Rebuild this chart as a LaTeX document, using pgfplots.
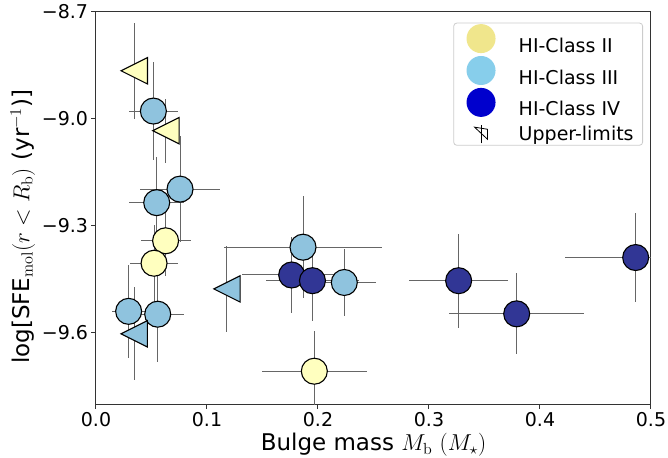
\RequirePackage{fix-cm}
\documentclass[border=0pt]{standalone}
\usepackage[no-math]{fontspec}
\setmainfont{DejaVu Sans}
\usepackage{pgfplots}
\pgfplotsset{compat=1.18}
\usepackage{pgfplotstable}

\definecolor{cII}{HTML}{FFFFBF}
\definecolor{cIII}{HTML}{8FC3DE}
\definecolor{cIV}{HTML}{313695}
\definecolor{lII}{HTML}{F0E68C}
\definecolor{lIII}{HTML}{87CEEB}
\definecolor{lIV}{HTML}{0000CD}
\definecolor{ebc}{HTML}{666666}

\pgfdeclareplotmark{ltri}{%
  \pgfpathmoveto{\pgfqpoint{-\pgfplotmarksize}{0pt}}%
  \pgfpathlineto{\pgfqpoint{\pgfplotmarksize}{\pgfplotmarksize}}%
  \pgfpathlineto{\pgfqpoint{\pgfplotmarksize}{-\pgfplotmarksize}}%
  \pgfpathclose
  \pgfusepathqfillstroke}

\pgfplotstableread{
x y exp exm eyp eym
0.0627 -9.342 0.0225 0.0225 0.100 0.100
0.0523 -9.405 0.022 0.022 0.108 0.108
0.1967 -9.708 0.047 0.047 0.112 0.112
}\tabII

\pgfplotstableread{
x y exp exm eyp eym
0.0517 -8.978 0.022 0.022 0.138 0.138
0.0757 -9.197 0.036 0.036 0.148 0.148
0.0547 -9.235 0.025 0.025 0.127 0.127
0.0294 -9.540 0.015 0.015 0.131 0.131
0.0556 -9.548 0.024 0.024 0.133 0.133
0.1865 -9.360 0.0715 0.0715 0.143 0.143
0.2237 -9.459 0.029 0.029 0.095 0.095
}\tabIII

\pgfplotstableread{
x y exp exm eyp eym
0.1763 -9.438 0.045 0.045 0.107 0.107
0.1950 -9.454 0.042 0.042 0.114 0.114
0.3267 -9.454 0.0445 0.0445 0.132 0.132
0.3790 -9.547 0.061 0.061 0.114 0.114
0.4862 -9.389 0.064 0.064 0.125 0.125
}\tabIV

\pgfplotstableread{
x y exp exm eyp eym
0.0345 -8.865 0 0 0.134 0.134
0.0630 -9.033 0 0 0.090 0.090
}\tabULII

\pgfplotstableread{
x y exp exm eyp eym
0.0344 -9.603 0 0 0.130 0.130
0.1180 -9.477 0 0 0.120 0.120
}\tabULIII

\pgfplotsset{
  ebars/.style={only marks, mark=none, forget plot,
    error bars/.cd, x dir=both, y dir=both, x explicit, y explicit,
    error mark=none, error bar style={ebc, line width=1bp}},
  circ/.style={only marks, forget plot, mark=*, mark size=13bp,
    mark options={fill=#1, draw=black, line width=1.1bp}},
  utri/.style={only marks, forget plot, mark=ltri, mark size=13.2bp,
    mark options={fill=#1, draw=black, line width=1.1bp}},
}

\begin{document}
\begin{tikzpicture}
\begin{axis}[
  scale only axis, width=555bp, height=392bp,
  xmin=0, xmax=0.5, ymin=-9.8, ymax=-8.7,
  xtick={0,0.1,0.2,0.3,0.4,0.5},
  ytick={-9.6,-9.3,-9.0,-8.7},
  yticklabels={−9.6,−9.3,−9.0,−8.7},
  tick align=outside, tick pos=left, major tick length=4.5bp,
  axis line style={black!80, line width=1bp},
  every tick/.style={black!80, line width=1bp},
  ticklabel style={font=\fontsize{19bp}{22bp}\selectfont},
  xticklabel style={/pgf/number format/.cd, fixed, fixed zerofill, precision=1, assume math mode=true},
  xlabel={Bulge mass $M_\mathrm{b}$ $(M_\star)$},
  ylabel={log[SFE$_\mathrm{mol}(r<R_\mathrm{b})$ (yr$^{-1}$)]},
  label style={font=\fontsize{23bp}{27bp}\selectfont},
  ylabel style={at={(ticklabel cs:0.452)}},
  legend cell align=left,
  legend style={at={(rel axis cs:0.9856,0.9727)}, anchor=north east,
    draw=black!20, line width=0.8bp, rounded corners=3bp,
    inner xsep=4.5bp, inner ysep=1bp, row sep=0.3bp,
    font=\fontsize{19bp}{22bp}\selectfont,
    nodes={inner xsep=4.5bp, inner ysep=2bp}},
]
% error bars first
\addplot[ebars] table[x=x, y=y, x error plus=exp, x error minus=exm, y error plus=eyp, y error minus=eym] {\tabII};
\addplot[ebars] table[x=x, y=y, x error plus=exp, x error minus=exm, y error plus=eyp, y error minus=eym] {\tabIII};
\addplot[ebars] table[x=x, y=y, x error plus=exp, x error minus=exm, y error plus=eyp, y error minus=eym] {\tabIV};
\addplot[ebars] table[x=x, y=y, x error plus=exp, x error minus=exm, y error plus=eyp, y error minus=eym] {\tabULII};
\addplot[ebars] table[x=x, y=y, x error plus=exp, x error minus=exm, y error plus=eyp, y error minus=eym] {\tabULIII};
% markers
\addplot[circ=cII] table[x=x, y=y] {\tabII};
\addplot[circ=cIII] table[x=x, y=y] {\tabIII};
\addplot[circ=cIV] table[x=x, y=y] {\tabIV};
\addplot[utri=cII] table[x=x, y=y] {\tabULII};
\addplot[utri=cIII] table[x=x, y=y] {\tabULIII};
% legend
\addlegendimage{legend image code/.code={\path[draw=none,fill=none] (0,-14.5bp) rectangle (56bp,14.5bp); \fill[lII, draw=none] (22.8bp,0) circle[radius=14.5bp];}}
\addlegendentry{HI-Class II}
\addlegendimage{legend image code/.code={\path[draw=none,fill=none] (0,-14.5bp) rectangle (56bp,14.5bp); \fill[lIII, draw=none] (22.8bp,0) circle[radius=14.5bp];}}
\addlegendentry{HI-Class III}
\addlegendimage{legend image code/.code={\path[draw=none,fill=none] (0,-14.5bp) rectangle (56bp,14.5bp); \fill[lIV, draw=none] (22.8bp,0) circle[radius=14.5bp];}}
\addlegendentry{HI-Class IV}
\addlegendimage{legend image code/.code={\path[draw=none,fill=none] (0,-14.5bp) rectangle (56bp,14.5bp); \draw[black, fill=none, sharp corners, line width=0.8bp] (16.3bp,0) -- (29.3bp,5bp) -- (29.3bp,-5bp) -- cycle; \draw[black, sharp corners, line width=0.8bp] (22.8bp,-9bp) -- (22.8bp,9bp);}}
\addlegendentry{Upper-limits}
\end{axis}
\pgfresetboundingbox
\path[use as bounding box] ([shift={(-96bp,-54bp)}]current axis.south west) rectangle ([shift={(572bp,404bp)}]current axis.south west);
\end{tikzpicture}
\end{document}
